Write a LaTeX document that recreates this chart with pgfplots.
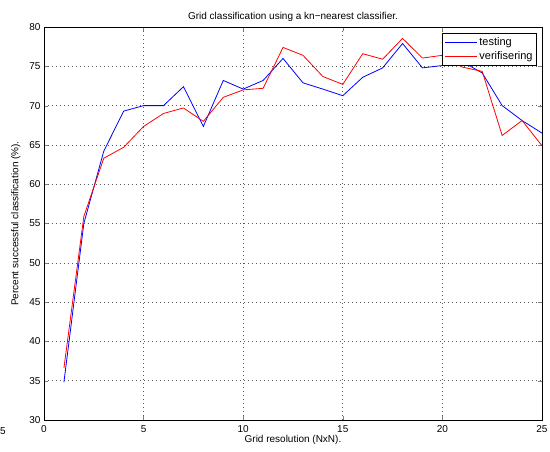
\documentclass[border=0pt]{standalone}
\usepackage{fontspec}
\setmainfont{Liberation Sans}
\usepackage{pgfplots}
\pgfplotsset{compat=1.18}
\begin{document}
\fontsize{10pt}{12pt}\selectfont
\begin{tikzpicture}
\useasboundingbox (-44pt,-31pt) rectangle (506pt,420pt);
\begin{axis}[
  at={(0pt,0pt)}, anchor=south west,
  scale only axis,
  width=498pt, height=393pt,
  xmin=0, xmax=25, ymin=30, ymax=80,
  xtick={0,5,10,15,20,25},
  ytick={30,35,40,45,50,55,60,65,70,75,80},
  tick pos=both, tick align=inside,
  major tick length=4pt,
  grid=major,
  major grid style={gray!70!black, line width=0.6pt, dash pattern=on 0.8pt off 3.2pt},
  axis line style={line width=0.6pt},
  /pgf/number format/assume math mode=true,
  ticklabel style={font=\fontsize{10pt}{12pt}\selectfont},
  xticklabel style={yshift=-2pt},
  yticklabel style={xshift=0pt},
  title={Grid classification using a kn\textminus nearest classifier.},
  title style={font=\fontsize{10pt}{12pt}\selectfont, yshift=-4pt},
  xlabel={Grid resolution (NxN).},
  ylabel={Percent successful classification (\%).},
  xlabel style={font=\fontsize{10pt}{12pt}\selectfont, yshift=4pt},
  ylabel style={font=\fontsize{10pt}{12pt}\selectfont, yshift=2pt},
  legend style={at={(rel axis cs:0.99,0.985)}, anchor=north east, draw=black, line width=0.8pt,
    font=\fontsize{11pt}{13pt}\selectfont, inner sep=2pt, row sep=1pt},
  legend cell align=left,
  legend image code/.code={\draw[#1] (0pt,0pt) -- (32pt,0pt);},
  clip=false,
]
\addplot[blue, line width=0.8pt] coordinates {
(1,34.8) (2,55.0) (3,64.2) (4,69.3) (5,70.0) (6,70.0) (7,72.4) (8,67.35) (9,73.2) (10,72.1)
(11,73.2) (12,76.0) (13,72.9) (14,72.1) (15,71.26) (16,73.6) (17,74.8) (18,77.9) (19,74.8) (20,75.1)
(21,75.6) (22,74.15) (23,70.0) (24,68.1) (25,66.5)};
\addlegendentry{testing}
\addplot[red, line width=0.8pt] coordinates {
(1,36.6) (2,55.9) (3,63.3) (4,64.7) (5,67.35) (6,69.0) (7,69.7) (8,68.0) (9,71.05) (10,72.0)
(11,72.2) (12,77.4) (13,76.4) (14,73.7) (15,72.7) (16,76.6) (17,75.9) (18,78.55) (19,76.05) (20,76.4)
(21,74.9) (22,74.35) (23,66.2) (24,68.1) (25,64.9)};
\addlegendentry{verifisering}
\node[anchor=north, font=\fontsize{10pt}{12pt}\selectfont] at (rel axis cs:-0.0823,0) [yshift=-4pt] {5};
\end{axis}
\end{tikzpicture}
\end{document}
